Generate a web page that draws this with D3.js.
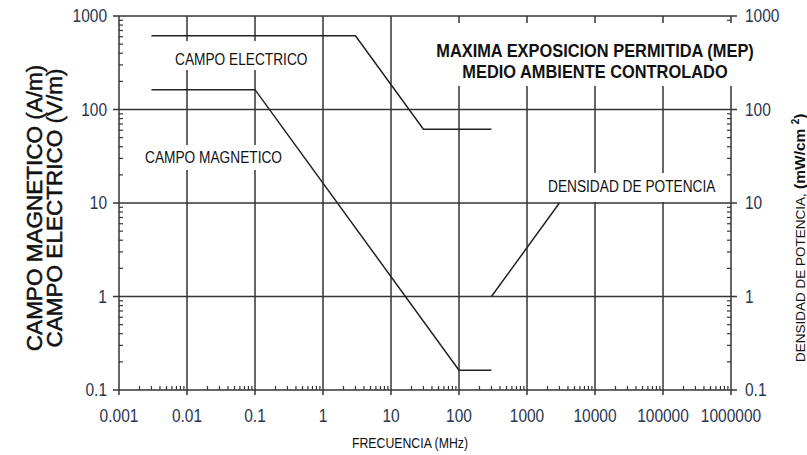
<!DOCTYPE html>
<html>
<head>
<meta charset="utf-8">
<script src="https://cdn.jsdelivr.net/npm/d3@7"></script>
<style>
  body { margin: 0; background: #fff; }
  text { font-family: "Liberation Sans", Arial, sans-serif; }
</style>
</head>
<body>
<div id="chart"></div>
<script>
// MEP limits, controlled environment
const electricFreq = [0.003, 3, 30, 300];
const electricVal = [614, 614, 61.4, 61.4];
const magneticFreq = [0.003, 0.1, 100, 300];
const magneticVal = [163, 163, 0.163, 0.163];
const powerFreq = [300, 3000];
const powerVal = [1, 10];

const xTickVals = [0.001, 0.01, 0.1, 1, 10, 100, 1000, 10000, 100000, 1000000];
const xTickLabels = ["0.001", "0.01", "0.1", "1", "10", "100", "1000", "10000", "100000", "1000000"];
const yTickVals = [0.1, 1, 10, 100, 1000];
const yTickLabels = ["0.1", "1", "10", "100", "1000"];

const width = 807, height = 455;
const plotLeft = 119, plotRight = 731, plotTop = 16, plotBottom = 390;
const gridColor = "#353535", labelColor = "#2a3550";
const stretch = 1.14; // source text is a bit taller than wide

var svg = d3.select("#chart").append("svg")
    .attr("width", width)
    .attr("height", height);

var x = d3.scaleLog().domain([0.001, 1000000]).range([plotLeft, plotRight]);
var y = d3.scaleLog().domain([0.1, 1000]).range([plotBottom, plotTop]);

// minor ticks 2..9 per decade
function minors(scale) {
    var out = [];
    var d = scale.domain();
    for (var e = Math.log10(d[0]); e < Math.log10(d[1]); e++) {
        for (var k = 2; k <= 9; k++) out.push(k * Math.pow(10, e));
    }
    return out;
}

function place(px, py) {
    return "translate(" + px + "," + py + ") scale(1," + stretch + ")";
}

var grid = svg.append("g").attr("stroke", gridColor).attr("stroke-width", 1.5);

// major grid
grid.selectAll(".vg").data(xTickVals.slice(1, -1)).enter().append("line")
    .attr("x1", d => x(d)).attr("x2", d => x(d))
    .attr("y1", plotTop).attr("y2", plotBottom + 5);
grid.selectAll(".hg").data(yTickVals.slice(1, -1)).enter().append("line")
    .attr("x1", plotLeft - 6).attr("x2", plotRight + 6)
    .attr("y1", d => y(d)).attr("y2", d => y(d));

// frame
grid.append("line").attr("x1", plotLeft - 6).attr("x2", plotRight + 6).attr("y1", plotTop).attr("y2", plotTop);
grid.append("line").attr("x1", plotLeft - 6).attr("x2", plotRight + 6).attr("y1", plotBottom).attr("y2", plotBottom);
grid.append("line").attr("x1", plotLeft).attr("x2", plotLeft).attr("y1", plotTop).attr("y2", plotBottom + 5);
grid.append("line").attr("x1", plotRight).attr("x2", plotRight).attr("y1", plotTop).attr("y2", plotBottom + 5);

// minor ticks, inside
var minor = svg.append("g").attr("stroke", gridColor).attr("stroke-width", 1.2);
minor.selectAll(".mx").data(minors(x)).enter().append("line")
    .attr("x1", d => x(d)).attr("x2", d => x(d))
    .attr("y1", plotBottom).attr("y2", plotBottom - 4);
minor.selectAll(".ml").data(minors(y)).enter().append("line")
    .attr("x1", plotLeft).attr("x2", plotLeft + 4)
    .attr("y1", d => y(d)).attr("y2", d => y(d));
minor.selectAll(".mr").data(minors(y)).enter().append("line")
    .attr("x1", plotRight).attr("x2", plotRight - 4)
    .attr("y1", d => y(d)).attr("y2", d => y(d));

// tick labels
var tl = svg.append("g").attr("fill", labelColor).style("font-size", "15.5px");
tl.selectAll(".xl").data(xTickVals).enter().append("text")
    .attr("transform", d => place(x(d), 422))
    .attr("text-anchor", "middle")
    .text((d, i) => xTickLabels[i]);
tl.selectAll(".yl").data(yTickVals).enter().append("text")
    .attr("transform", d => place(107, y(d) + 6))
    .attr("text-anchor", "end")
    .text((d, i) => yTickLabels[i]);
tl.selectAll(".yr").data(yTickVals).enter().append("text")
    .attr("transform", d => place(745, y(d) + 6))
    .text((d, i) => yTickLabels[i]);

// white boxes behind labels, they cut the grid
function box(x0, y0, x1, y1) {
    svg.append("rect").attr("x", x0).attr("y", y0)
        .attr("width", x1 - x0).attr("height", y1 - y0).attr("fill", "#fff");
}
box(428, 23, 760, 86);
box(170, 41, 313, 70);
box(140, 145, 289, 170);
box(543, 173, 720, 202);

// data lines
var line = d3.line().x(d => x(d[0])).y(d => y(d[1]));
var series = [
    d3.zip(electricFreq, electricVal),
    d3.zip(magneticFreq, magneticVal),
    d3.zip(powerFreq, powerVal)
];
svg.selectAll(".series").data(series).enter().append("path")
    .attr("d", line)
    .attr("fill", "none")
    .attr("stroke", "#222")
    .attr("stroke-width", 1.5);

// labels
var lab = svg.append("g").attr("fill", "#111").style("font-size", "13.7px");
lab.append("text").attr("transform", place(175, 65)).text("CAMPO ELECTRICO");
lab.append("text").attr("transform", place(145, 163)).text("CAMPO MAGNETICO");
lab.append("text").attr("transform", place(548, 192)).text("DENSIDAD DE POTENCIA");

var title = svg.append("g").attr("fill", "#111")
    .style("font-size", "16.4px").style("font-weight", "bold")
    .attr("text-anchor", "middle");
title.append("text").attr("transform", place(595, 57)).text("MAXIMA EXPOSICION PERMITIDA (MEP)");
title.append("text").attr("transform", place(595, 78)).text("MEDIO AMBIENTE CONTROLADO");

// axis titles
svg.append("text").attr("transform", place(410, 448))
    .attr("text-anchor", "middle").attr("fill", "#111")
    .style("font-size", "12.3px")
    .text("FRECUENCIA (MHz)");

var yl = svg.append("g").attr("fill", "#111").style("font-size", "22.5px")
    .attr("stroke", "#111").attr("stroke-width", 0.5)
    .attr("text-anchor", "middle");
yl.append("text").attr("transform", "translate(42,208) rotate(-90)").text("CAMPO MAGNETICO (A/m)");
yl.append("text").attr("transform", "translate(62,208) rotate(-90)").text("CAMPO ELECTRICO (V/m)");

var yr = svg.append("text").attr("transform", "translate(805,362) rotate(-90)")
    .attr("fill", "#111").style("font-size", "13.5px");
yr.append("tspan").text("DENSIDAD DE POTENCIA,");
yr.append("tspan").style("font-weight", "bold").style("font-size", "15.5px").text(" (mW/cm ");
yr.append("tspan").style("font-weight", "bold").style("font-size", "10px").attr("dy", -6).text("2");
yr.append("tspan").style("font-weight", "bold").style("font-size", "15.5px").attr("dy", 6).text(")");
</script>
</body>
</html>
